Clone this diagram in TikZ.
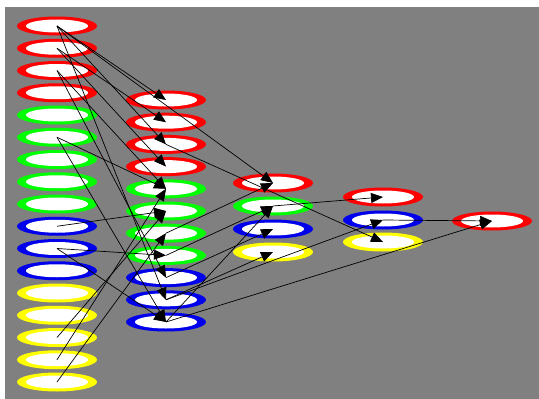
\documentclass[tikz,border=0pt]{standalone}
\usetikzlibrary{shapes.geometric,arrows.meta}
\definecolor{bg}{RGB}{128,128,128}
\definecolor{nred}{RGB}{255,0,0}
\definecolor{ngreen}{RGB}{0,255,0}
\definecolor{nblue}{RGB}{0,0,235}
\definecolor{nyellow}{RGB}{255,255,0}
\begin{document}
\begin{tikzpicture}[x=1pt,y=-1pt,
  nd/.style={ellipse,fill=#1,draw=none,minimum width=80pt,minimum height=19pt,inner sep=0pt,
    path picture={\fill[white] (path picture bounding box.center) ellipse [x radius=31pt,y radius=6.5pt];}},
  arr/.style={-{Triangle[length=12pt,width=10pt]},line width=0.7pt,black}]
\useasboundingbox (0,0) rectangle (539,399);
\fill[white] (0,0) rectangle (539,399);
\fill[bg] (5,7) rectangle (539,399);
% column 1
\foreach \i/\c in {1/nred,2/nred,3/nred,4/nred,5/ngreen,6/ngreen,7/ngreen,8/ngreen,9/ngreen,10/nblue,11/nblue,12/nblue,13/nyellow,14/nyellow,15/nyellow,16/nyellow,17/nyellow}
  \node[nd=\c] (a\i) at (57,{26+22.25*(\i-1)}) {};
% column 2
\foreach \i/\c in {1/nred,2/nred,3/nred,4/nred,5/ngreen,6/ngreen,7/ngreen,8/ngreen,9/nblue,10/nblue,11/nblue}
  \node[nd=\c] (b\i) at (166,{100+22.2*(\i-1)}) {};
% column 3
\node[nd=nred] (c1) at (273,183) {};
\node[nd=ngreen] (c2) at (273,206) {};
\node[nd=nblue] (c3) at (273,229) {};
\node[nd=nyellow] (c4) at (273,252) {};
% column 4
\node[nd=nred] (d1) at (383,197) {};
\node[nd=nblue] (d2) at (383,220) {};
\node[nd=nyellow] (d3) at (383,242) {};
% column 5
\node[nd=nred] (e1) at (492,221) {};
% edges
\foreach \s/\t in {a1/b1,a1/b3,a1/c1,a1/b10,a2/b2,a2/b4,a3/b9,a3/b5,a6/b5,a6/b11,a10/b6,a11/b8,a11/b11,a15/b6,a16/b5,a17/b7,
  b7/c1,b11/c2,b8/c2,b9/c3,b10/c4,c2/d1,b10/d2,b3/d3,d2/e1,b11/e1}
  \draw[arr] (\s.center) -- (\t.center);
\end{tikzpicture}
\end{document}
